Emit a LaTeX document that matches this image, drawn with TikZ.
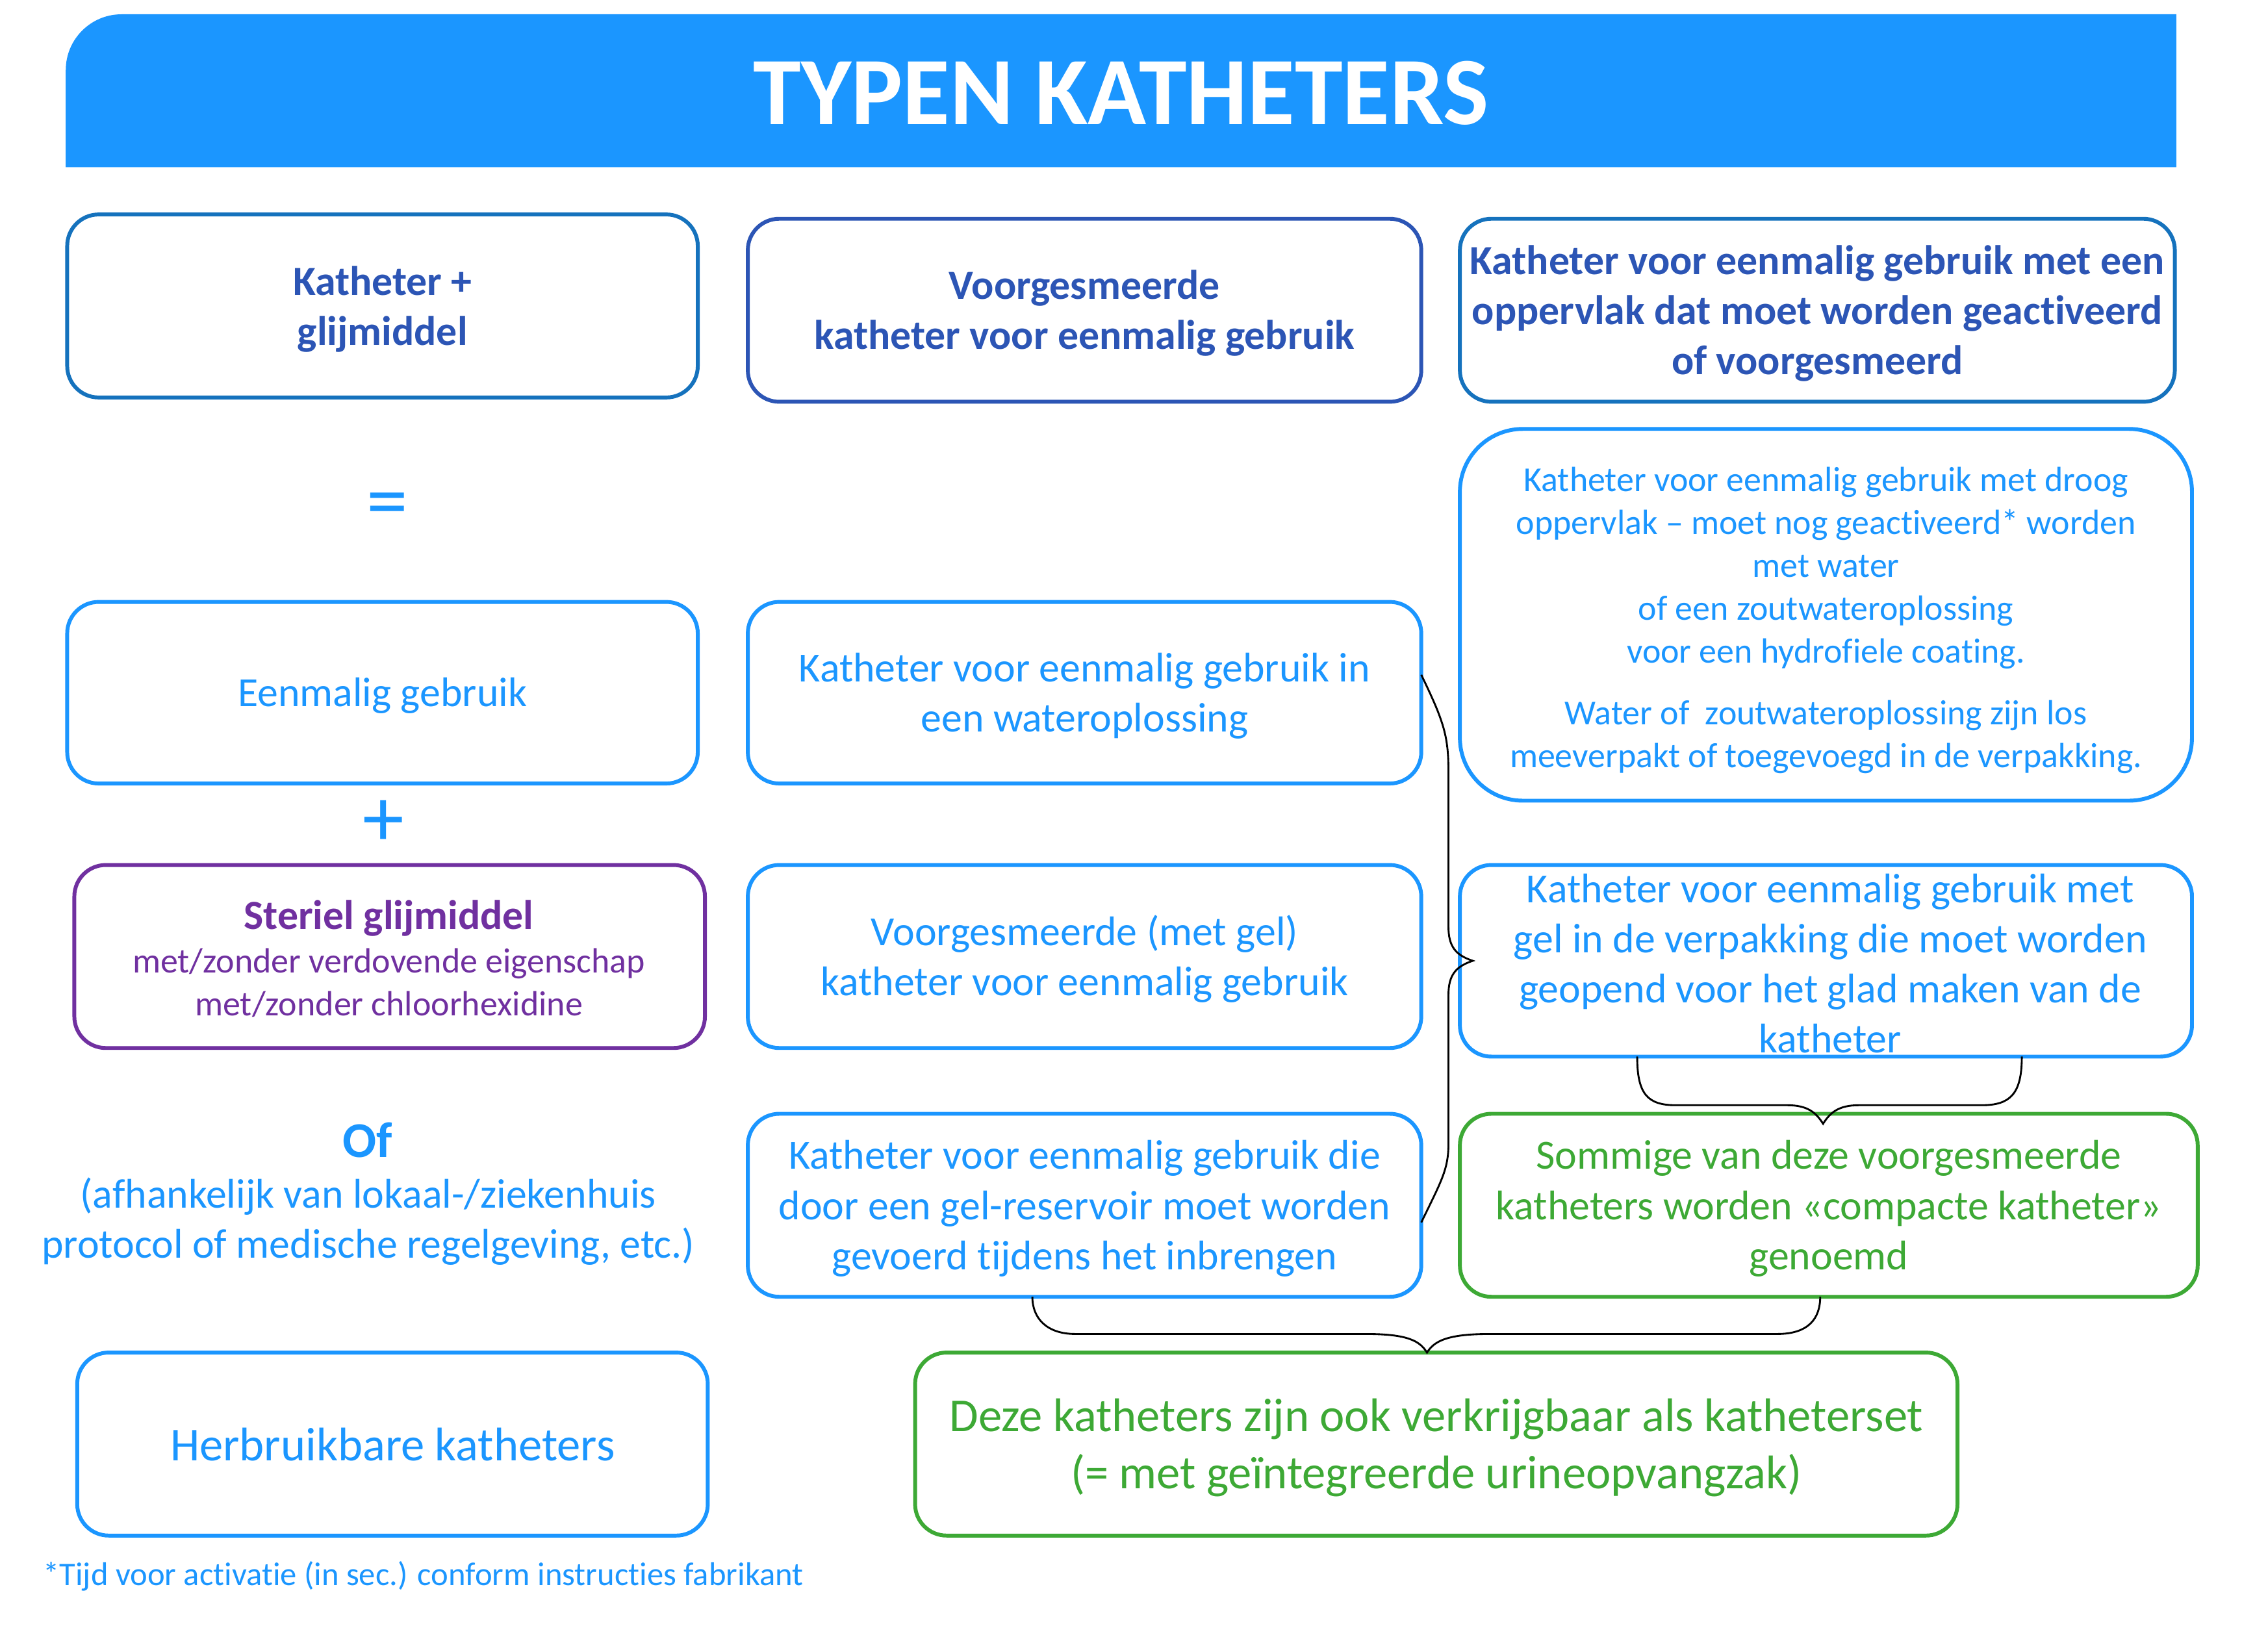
\documentclass[tikz,border=0pt]{standalone}
\usepackage{fontspec}
\setmainfont{Carlito}[Ligatures=NoCommon]
\definecolor{lblue}{HTML}{1B96FF}
\definecolor{dblue}{HTML}{2C55B5}
\definecolor{mblue}{HTML}{1572BD}
\definecolor{kgreen}{HTML}{3DA935}
\definecolor{kpurple}{HTML}{7030A0}
\newcommand\zs{\vrule width 0pt height .85em depth .15em\relax}
\begin{document}
\begin{tikzpicture}[x=1pt,y=-1pt,
  bx/.style={draw, line width=2.7pt, rounded corners=22pt, fill=white, outer sep=0pt, inner sep=0pt},
  tr/.style={align=center, inner sep=0pt, font=\fontsize{29}{35}\selectfont},
  tb/.style={align=center, inner sep=0pt, font=\fontsize{29}{35}\selectfont\bfseries, text=dblue},
  ts/.style={align=center, inner sep=0pt, font=\fontsize{24.5}{30}\selectfont},
  brace/.style={draw=black, line width=1.3pt}]
\useasboundingbox (0,0) rectangle (1568,1155);
\fill[white] (0,0) rectangle (1568,1155);
% banner
\fill[lblue] (46,117) -- (46,49) .. controls (46,27.5) and (63.5,10) .. (85,10) -- (1522,10) -- (1522,117) -- cycle;
\node[inner sep=0pt, font=\fontsize{67.5}{80}\selectfont\bfseries, text=white] (title) at (784,65) {TYPEN KATHETERS};
% left column
\node[bx, draw=mblue, minimum width=441pt, minimum height=128pt] (h1) at (267.5,214) {};
\node[tb] (h1t) at (h1) {\zs Katheter +\\\zs glijmiddel};
\node[inner sep=0pt, font=\fontsize{58}{60}\selectfont, text=lblue] (eq) at (271,357) {=};
\node[bx, draw=lblue, minimum width=441pt, minimum height=127pt] (l2) at (267.5,484.5) {};
\node[tr, text=lblue] (l2t) at (l2) {\zs Eenmalig gebruik};
\node[inner sep=0pt, font=\fontsize{58}{60}\selectfont, text=lblue] (plus) at (268,576) {+};
\node[bx, draw=kpurple, minimum width=441pt, minimum height=128pt] (l3) at (272.5,669) {};
\node[tr, text=kpurple, font=\fontsize{29}{35}\selectfont\bfseries] (l3a) at (272,640) {\zs Steriel glijmiddel};
\node[ts, text=kpurple] (l3b) at (272,687) {\zs met/zonder verdovende eigenschap\\\zs met/zonder chloorhexidine};
\node[inner sep=0pt, font=\fontsize{35}{40}\selectfont\bfseries, text=lblue] (of) at (257,797) {\zs Of};
\node[tr, text=lblue] (oft) at (257.5,852.5) {\zs (afhankelijk van lokaal-/ziekenhuis\\\zs protocol of medische regelgeving, etc.)};
\node[bx, draw=lblue, minimum width=441pt, minimum height=128pt] (l5) at (274.5,1010) {};
\node[tr, text=lblue, font=\fontsize{33}{40}\selectfont] (l5t) at (l5) {\zs Herbruikbare katheters};
\node[anchor=west, inner sep=0pt, font=\fontsize{23}{27}\selectfont, text=lblue] (foot) at (30,1101) {\zs *Tijd voor activatie (in sec.) conform instructies fabrikant};
% middle column
\node[bx, draw=dblue, minimum width=471pt, minimum height=128pt] (h2) at (758.5,217) {};
\node[tb] (h2t) at (h2) {\zs Voorgesmeerde\\\zs katheter voor eenmalig gebruik};
\node[bx, draw=lblue, minimum width=471pt, minimum height=127pt] (m2) at (758.5,484.5) {};
\node[tr, text=lblue] (m2t) at (m2) {\zs Katheter voor eenmalig gebruik in\\\zs een wateroplossing};
\node[bx, draw=lblue, minimum width=471pt, minimum height=128pt] (m3) at (758.5,669) {};
\node[tr, text=lblue] (m3t) at (m3) {\zs Voorgesmeerde (met gel)\\\zs katheter voor eenmalig gebruik};
\node[bx, draw=lblue, minimum width=471pt, minimum height=128pt] (m4) at (758.5,843) {};
\node[tr, text=lblue] (m4t) at (m4) {\zs Katheter voor eenmalig gebruik die\\\zs door een gel-reservoir moet worden\\\zs gevoerd tijdens het inbrengen};
% right column
\node[bx, draw=mblue, minimum width=500pt, minimum height=128pt] (h3) at (1271,217) {};
\node[tb] (h3t) at (h3) {\zs Katheter voor eenmalig gebruik met een\\\zs oppervlak dat moet worden geactiveerd\\\zs of voorgesmeerd};
\node[bx, draw=lblue, rounded corners=44pt, minimum width=512pt, minimum height=260pt] (r2) at (1277,430) {};
\node[ts, text=lblue] (r2t) at (1277,432) {\zs Katheter voor eenmalig gebruik met droog\\\zs oppervlak -- moet nog geactiveerd* worden\\\zs met water\\\zs of een zoutwateroplossing\\\zs voor een hydrofiele coating.\\[13pt]\zs Water of\ \ zoutwateroplossing zijn los\\\zs meeverpakt of toegevoegd in de verpakking.};
\node[bx, draw=lblue, minimum width=512pt, minimum height=134pt] (r3) at (1277,672) {};
\node[tr, text=lblue] (r3t) at (1280,673.5) {\zs Katheter voor eenmalig gebruik met\\\zs gel in de verpakking die moet worden\\\zs geopend voor het glad maken van de\\\zs katheter};
\node[bx, draw=kgreen, minimum width=516pt, minimum height=128pt] (r4) at (1279,843) {};
\node[tr, text=kgreen] (r4t) at (r4) {\zs Sommige van deze voorgesmeerde\\\zs katheters worden «compacte katheter»\\\zs genoemd};
\node[bx, draw=kgreen, minimum width=729pt, minimum height=128pt] (g) at (1004.5,1010) {};
\node[tr, text=kgreen, font=\fontsize{33}{40}\selectfont] (gt) at (g) {\zs Deze katheters zijn ook verkrijgbaar als katheterset\\\zs (= met geïntegreerde urineopvangzak)};
% braces
\coordinate (b1a) at ([yshift=12.5pt]m2.east);
\coordinate (b1b) at ([yshift=-12pt]m4.east);
\coordinate (b1t) at (1030,672);
\path[brace] (b1a) .. controls (1010,505) and (1013,515) .. (1013,540) -- (1013,648)
  .. controls (1013,662) and (1018,668) .. (b1t)
  .. controls (1018,676) and (1013,682) .. (1013,696) -- (1013,800)
  .. controls (1013,818) and (1008,826) .. (b1b);
\coordinate (b2a) at ([xshift=-132pt]r3.south);
\coordinate (b2b) at ([xshift=137pt]r3.south);
\coordinate (b2t) at (1275,786);
\path[brace] (b2a) .. controls (1145,765) and (1152,773) .. (1172,773) -- (1250,773)
  .. controls (1264,773) and (1270,778) .. (b2t)
  .. controls (1280,778) and (1286,773) .. (1300,773) -- (1386,773)
  .. controls (1406,773) and (1414,765) .. (b2b);
\coordinate (b3a) at ([xshift=-36.5pt]m4.south);
\coordinate (b3b) at ([xshift=-6pt]r4.south);
\coordinate (b3t) at (998,946);
\path[brace] (b3a) .. controls (722,922) and (732,933) .. (752,933) -- (955,933)
  .. controls (985,933) and (993,938) .. (b3t)
  .. controls (1003,938) and (1012,933) .. (1042,933) -- (1243,933)
  .. controls (1265,933) and (1273,922) .. (b3b);
\end{tikzpicture}
\end{document}
